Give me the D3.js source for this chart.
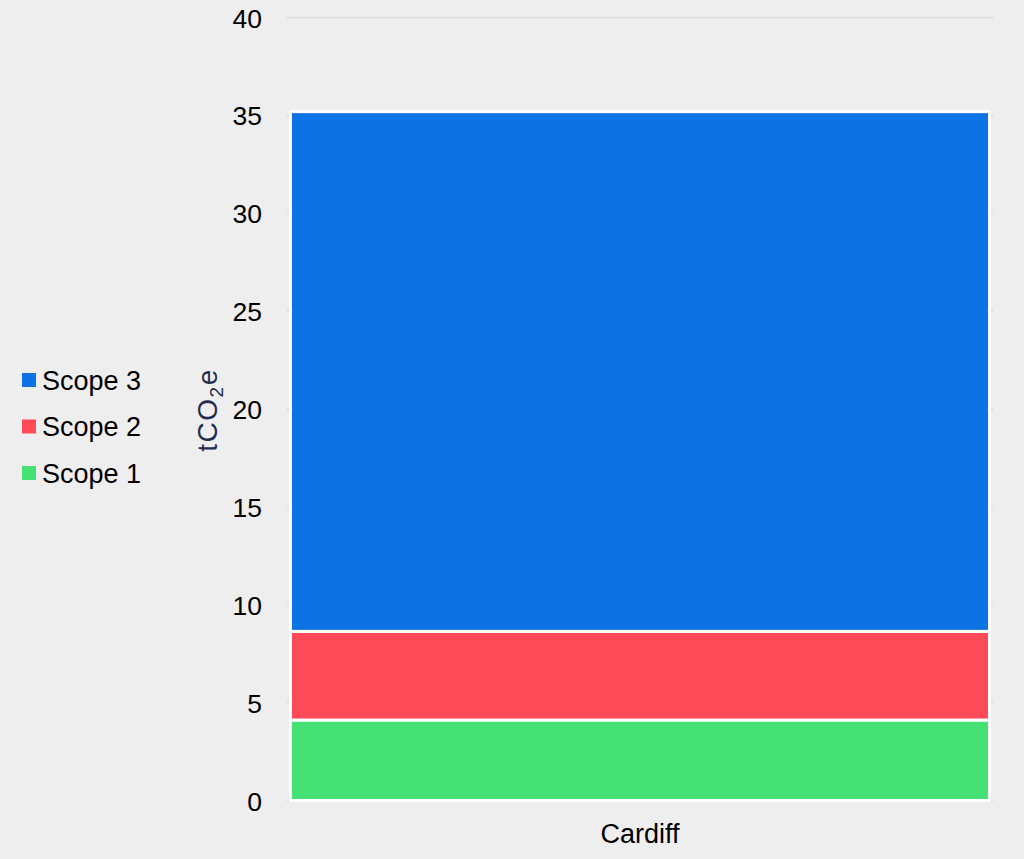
<!DOCTYPE html>
<html>
<head>
<meta charset="utf-8">
<script src="https://cdn.jsdelivr.net/npm/d3@7"></script>
<style>
  html, body { margin: 0; padding: 0; background: #eeeeee; }
  svg { display: block; font-family: "Liberation Sans", Arial, sans-serif; }
</style>
</head>
<body>
<svg id="chart" width="1024" height="859"></svg>
<script>
const categories = ["Cardiff"];
const seriesNames = ["Scope 1", "Scope 2", "Scope 3"];
const scope1 = [4.11];
const scope2 = [4.53];
const scope3 = [26.55];
const yTicks = [0, 5, 10, 15, 20, 25, 30, 35, 40];
const colors = ["#45e175", "#ff4a5a", "#0d72e4"];

const svg = d3.select("#chart");
const W = 1024, H = 859;
svg.append("rect").attr("width", W).attr("height", H).attr("fill", "#eeeeee");

const plot = { left: 287, right: 993, top: 17.5, bottom: 800.5 };

const y = d3.scaleLinear().domain([0, 40]).range([plot.bottom, plot.top]);
const x = d3.scaleBand().domain(categories).range([plot.left, plot.right])
  .paddingInner(0).paddingOuter(0.005);

// gridlines
svg.append("g").selectAll("line").data(yTicks).join("line")
  .attr("x1", plot.left).attr("x2", plot.right)
  .attr("y1", d => y(d)).attr("y2", d => y(d))
  .attr("stroke", "#d9d9d9").attr("stroke-width", 1.5);

// y axis labels
const yAxis = d3.axisLeft(y).tickValues(yTicks).tickSize(0).tickPadding(0);
const gy = svg.append("g").attr("transform", "translate(262,0)").call(yAxis);
gy.select(".domain").remove();
gy.selectAll("text").attr("font-size", 26.5).attr("fill", "#000")
  .attr("font-family", "'Liberation Sans', Arial, sans-serif")
  .attr("dy", "0.36em");

// stacked data
const rows = categories.map((c, i) => ({ cat: c, "Scope 1": scope1[i], "Scope 2": scope2[i], "Scope 3": scope3[i] }));
const stack = d3.stack().keys(seriesNames)(rows);

svg.append("g").selectAll("g").data(stack).join("g")
  .attr("fill", (d, i) => colors[i])
  .selectAll("rect").data(d => d).join("rect")
  .attr("x", d => x(d.data.cat))
  .attr("width", x.bandwidth())
  .attr("y", d => y(d[1]))
  .attr("height", d => y(d[0]) - y(d[1]))
  .attr("stroke", "#ffffff").attr("stroke-width", 3);

// x axis label
const xAxis = d3.axisBottom(x).tickSize(0).tickPadding(0);
const gx = svg.append("g").attr("transform", "translate(0,824)").call(xAxis);
gx.select(".domain").remove();
gx.selectAll("text").attr("font-size", 27).attr("fill", "#000")
  .attr("font-family", "'Liberation Sans', Arial, sans-serif")
  .attr("dy", "0.71em");

// y axis title
const yt = svg.append("text")
  .attr("transform", "translate(217,410) rotate(-90)")
  .attr("text-anchor", "middle")
  .attr("letter-spacing", 1.5)
  .attr("font-size", 28).attr("fill", "#1f2d4f");
yt.append("tspan").text("tCO");
yt.append("tspan").text("2").attr("font-size", 19).attr("dy", 6);
yt.append("tspan").text("e").attr("dy", -6);

// legend
const legendItems = ["Scope 3", "Scope 2", "Scope 1"];
const legendColors = [colors[2], colors[1], colors[0]];
const lg = svg.append("g").selectAll("g").data(legendItems).join("g")
  .attr("transform", (d, i) => `translate(22,${380 + i * 46.5})`);
lg.append("rect").attr("x", 0).attr("y", -7).attr("width", 14).attr("height", 14)
  .attr("fill", (d, i) => legendColors[i]);
lg.append("text").attr("x", 20).attr("y", 0).attr("dy", "0.36em")
  .attr("font-size", 27).attr("fill", "#000").text(d => d);
</script>
</body>
</html>
